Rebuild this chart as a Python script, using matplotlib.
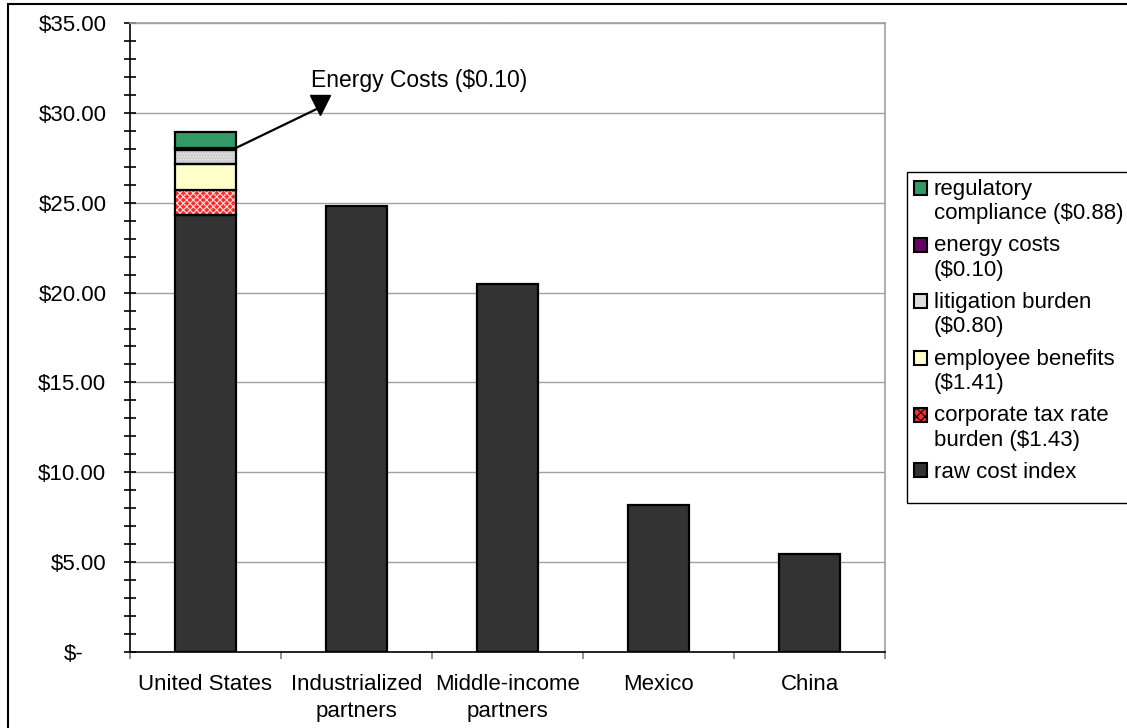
import matplotlib
matplotlib.use("Agg")
import matplotlib.pyplot as plt
import numpy as np
from matplotlib.patches import Rectangle, Patch
from matplotlib.transforms import ScaledTranslation
from matplotlib.legend_handler import HandlerPatch

plt.rcParams['font.family'] = ['Liberation Sans', 'DejaVu Sans']
plt.rcParams['hatch.linewidth'] = 0.8

categories = ["United States", "Industrialized\npartners", "Middle-income\npartners", "Mexico", "China"]
raw_cost = [24.30, 24.83, 20.50, 8.17, 5.44]
corporate_tax = [1.43, 0, 0, 0, 0]
employee_benefits = [1.41, 0, 0, 0, 0]
litigation = [0.80, 0, 0, 0, 0]
energy = [0.10, 0, 0, 0, 0]
regulatory = [0.88, 0, 0, 0, 0]

series_labels = ["raw cost index", "corporate tax rate\nburden ($1.43)", "employee benefits\n($1.41)",
                 "litigation burden\n($0.80)", "energy costs\n($0.10)", "regulatory\ncompliance ($0.88)"]
yticks = [0, 5, 10, 15, 20, 25, 30, 35]
ytick_labels = ["$-", "$5.00", "$10.00", "$15.00", "$20.00", "$25.00", "$30.00", "$35.00"]

FS = 16
LS = 1.22

fig = plt.figure(figsize=(11.27, 7.28), dpi=100)
ax = fig.add_axes([130/1127, 1-652/728, (885-130)/1127, (652-23)/728])

x = np.arange(len(categories))
w = 0.40
lw = 1.6
series = [raw_cost, corporate_tax, employee_benefits, litigation, energy, regulatory]
colors = ['#333333', '#FF2A2A', '#FFFFCC', '#DDDDDD', '#660066', '#339966']
hatches = [None, 'xxxxx', None, '......', None, None]
hatch_cols = [None, '#FFE0E0', None, '#BBBBBB', None, None]

bottom = np.zeros(len(categories))
handles = []
for vals, col, h, hc, lab in zip(series, colors, hatches, hatch_cols, series_labels):
    vals = np.array(vals, dtype=float)
    mask = vals > 0
    if h is not None:
        ax.bar(x[mask], vals[mask], w, bottom=bottom[mask], color=col, hatch=h,
               edgecolor=hc, linewidth=0, zorder=2)
        ax.bar(x[mask], vals[mask], w, bottom=bottom[mask], facecolor='none',
               edgecolor='black', linewidth=lw, zorder=3)
    else:
        ax.bar(x[mask], vals[mask], w, bottom=bottom[mask], color=col,
               edgecolor='black', linewidth=lw, zorder=3)
    handles.append(Patch(facecolor=col, edgecolor='black', linewidth=1.5,
                         hatch=('xxxx' if col == '#FF2A2A' else None), label=lab))
    bottom = bottom + vals

ax.set_xlim(-0.5, 4.5)
ax.set_ylim(0, 35)

# y axis
ax.set_yticks(yticks)
ax.set_yticklabels(ytick_labels)
ax.set_yticks(np.arange(0, 36, 1), minor=True)
ax.tick_params(axis='y', which='both', direction='inout', length=9, width=1.2,
               labelsize=FS, pad=12.5)
ax.yaxis.grid(True, which='major', color='#A0A0A0', linewidth=1.0, zorder=0)
ax.set_axisbelow(True)
lab0 = ax.get_yticklabels()[0]
lab0.set_transform(lab0.get_transform() + ScaledTranslation(-23/100, 0, fig.dpi_scale_trans))

# x axis
ax.set_xticks(np.arange(-0.5, 5, 1))
ax.set_xticklabels([])
ax.set_xticks(x, minor=True)
ax.set_xticklabels(categories, minor=True, fontsize=FS, linespacing=1.35)
ax.tick_params(axis='x', which='major', direction='out', length=5, color='#808080', width=1.2)
ax.tick_params(axis='x', which='minor', length=0, pad=16)

for s in ['top', 'right']:
    ax.spines[s].set_color('#A0A0A0')
    ax.spines[s].set_linewidth(1.2)
for s in ['left', 'bottom']:
    ax.spines[s].set_color('black')
    ax.spines[s].set_linewidth(1.2)

# annotation
us_energy_top = raw_cost[0] + corporate_tax[0] + employee_benefits[0] + litigation[0] + energy[0]
ax.annotate("", xy=(0.745, 30.25), xytext=(w/2, us_energy_top),
            arrowprops=dict(arrowstyle='-', color='black', lw=1.6, shrinkA=0, shrinkB=0), zorder=5)
ax.plot([0.755], [30.45], marker='v', markersize=15, color='black', zorder=6, clip_on=False)
ax.text(0.70, 31.8, "Energy Costs ($0.10)", fontsize=16.5, va='center', ha='left')

# legend
def up_patch(legend, orig_handle, xdescent, ydescent, width, height, fontsize):
    return Rectangle((-xdescent, -ydescent + 0.5 * LS * fontsize), width, height)

hmap = {}
for hdl in handles:
    if "\n" in hdl.get_label():
        hmap[hdl] = HandlerPatch(patch_func=up_patch)

leg = fig.legend(handles=handles[::-1], loc='upper left',
                 bbox_to_anchor=(907/1127, 1-172/728), fontsize=FS,
                 frameon=False, handler_map=hmap,
                 handlelength=0.6, handleheight=0.6, handletextpad=0.3,
                 labelspacing=0.5, borderpad=0.3, borderaxespad=0)
for t in leg.get_texts():
    t.set_linespacing(LS)
fig.add_artist(Rectangle((907/1127, 1-503/728), 0.3, (503-172)/728, transform=fig.transFigure,
                         fill=False, edgecolor='black', linewidth=1.0))

# figure border
fig.add_artist(Rectangle((8/1127, -0.1), 1.2, 1.1 - 4/728, transform=fig.transFigure,
                         fill=False, edgecolor='black', linewidth=1.5))

fig.savefig("out.png", dpi=100)
